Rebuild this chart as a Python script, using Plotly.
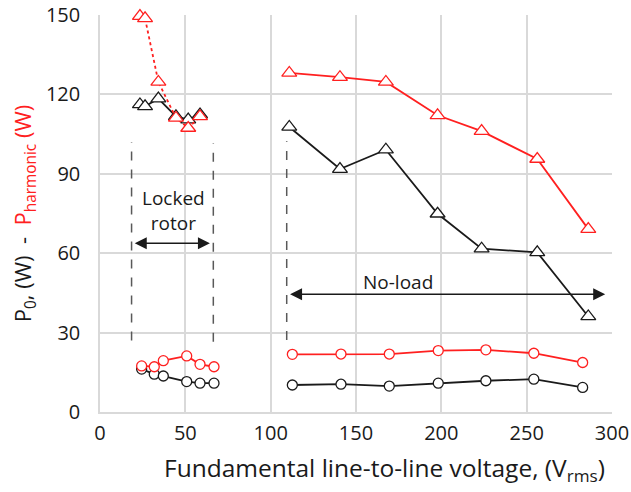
import plotly.graph_objects as go

# ---- Data ----
# No-load, harmonic losses (red triangles)
nl_tri_x = [110.9, 140.6, 167.5, 197.8, 223.6, 256.2, 286.1]
nl_harm = [128.1, 126.5, 124.7, 112.1, 106.1, 95.6, 69.1]
nl_p0 = [107.7, 91.8, 99.1, 74.9, 61.7, 60.3, 36.1]
# No-load, circles
nl_circ_x = [112.7, 141.2, 169.5, 198.2, 226.1, 254.2, 282.8]
nl_circ_red = [21.8, 21.9, 21.9, 23.2, 23.5, 22.2, 18.7]
nl_circ_black = [10.2, 10.5, 9.8, 10.9, 11.8, 12.4, 9.3]
# Locked rotor, triangles
lr_tri_x = [23.4, 26.4, 34.2, 44.5, 51.7, 58.6]
lr_harm = [149.6, 148.7, 124.7, 111.1, 107.3, 111.7]
lr_p0 = [116.2, 115.5, 118.4, 111.7, 110.5, 112.4]
# Locked rotor, circles
lr_circ_x = [24.4, 31.8, 37.1, 50.8, 58.6, 66.8]
lr_circ_red = [17.4, 17.1, 19.4, 21.2, 18.0, 17.1]
lr_circ_black = [16.2, 14.3, 13.6, 11.5, 10.9, 10.9]

x_ticks = [0, 50, 100, 150, 200, 250, 300]
y_ticks = [0, 30, 60, 90, 120, 150]

RED = "#ff2020"
BLACK = "#1a1a1a"
FONT = "Open Sans"

fig = go.Figure()


def add(x, y, color, symbol, size, dash="solid"):
    fig.add_trace(go.Scatter(
        x=x, y=y, mode="lines+markers",
        line=dict(color=color, width=1.8, dash=dash),
        marker=dict(symbol=symbol, size=size, color="white",
                    line=dict(color=color, width=1.3)),
        showlegend=False, hoverinfo="skip", cliponaxis=False))


add(nl_circ_x, nl_circ_black, BLACK, "circle", 10)
add(nl_circ_x, nl_circ_red, RED, "circle", 10)
add(lr_circ_x, lr_circ_black, BLACK, "circle", 10)
add(lr_circ_x, lr_circ_red, RED, "circle", 10)
add(nl_tri_x, nl_p0, BLACK, "triangle-up", 13)
add(nl_tri_x, nl_harm, RED, "triangle-up", 13)
add(lr_tri_x, lr_p0, BLACK, "triangle-up", 13)
add(lr_tri_x, lr_harm, RED, "triangle-up", 13, dash="dot")

# dashed separators
for xv, y0, y1 in [(18.5, 27.0, 102.0), (66.4, 26.5, 101.5), (109.4, 27.2, 102.3)]:
    fig.add_shape(type="line", x0=xv, x1=xv, y0=y0, y1=y1, xref="x", yref="y",
                  line=dict(color="#595959", width=1.5, dash="dash"))

# arrows
for x0, x1, yv in [(19.5, 64.4, 63.8), (110.5, 296.0, 44.5)]:
    fig.add_annotation(x=x1, y=yv, ax=x0, ay=yv, xref="x", yref="y",
                       axref="x", ayref="y", text="", showarrow=True,
                       arrowhead=2, startarrowhead=2, arrowside="end+start",
                       arrowsize=1.6, startarrowsize=1.6, arrowwidth=1.5,
                       arrowcolor="#1a1a1a")

fig.add_annotation(x=43, y=76, text="Locked<br>rotor", showarrow=False,
                   font=dict(family=FONT, size=19, color="#1a1a1a"))
fig.add_annotation(x=174.8, y=49.3, text="No-load", showarrow=False,
                   font=dict(family=FONT, size=19, color="#1a1a1a"))

# x-axis title (placed like the reference, slightly right of plot centre)
fig.add_annotation(xref="paper", yref="paper", x=0.555, y=-0.143,
                   xanchor="center", yanchor="middle", showarrow=False,
                   text="Fundamental line-to-line voltage, (V<sub>rms</sub>)",
                   font=dict(family=FONT, size=24.5, color="#1a1a1a"))

fig.update_layout(
    width=631, height=492,
    margin=dict(l=100, r=19, t=15, b=80),
    paper_bgcolor="white", plot_bgcolor="white",
    font=dict(family=FONT, size=18, color="#1a1a1a"),
    xaxis=dict(range=[0, 300], tickvals=x_ticks, showgrid=True,
               gridcolor="#d9d9d9", gridwidth=1.5, zeroline=False,
               showline=True, linecolor="#d9d9d9", linewidth=1.5,
               ticks="", tickfont=dict(size=20), ticklabelstandoff=2,
               automargin=False),
    yaxis=dict(range=[0, 150], tickvals=y_ticks, showgrid=True,
               gridcolor="#d9d9d9", gridwidth=1.5, zeroline=False,
               showline=True, linecolor="#d9d9d9", linewidth=1.5,
               ticks="", tickfont=dict(size=20), ticklabelstandoff=14,
               automargin=False,
               title=dict(text="P<sub>0</sub>, (W)  -  <span style=\"color:#ff2020\">P<sub>harmonic</sub> (W)</span>",
                          font=dict(size=22), standoff=8)),
)

fig.write_html("out.html", config={"displayModeBar": False},
               post_script="document.body.style.margin='0';")
